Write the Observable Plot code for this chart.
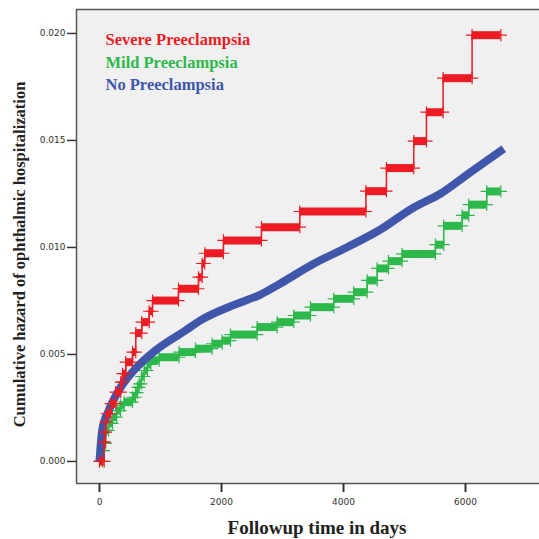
<!DOCTYPE html>
<html>
<head>
<meta charset="utf-8">
<script src="https://cdn.jsdelivr.net/npm/d3@7"></script>
<script src="https://cdn.jsdelivr.net/npm/@observablehq/plot@0.6"></script>
<style>
  body { margin: 0; background: #fff; }
</style>
</head>
<body>
<div id="chart"></div>
<script>
// ---- data ----
const seriesNames = ["Severe Preeclampsia", "Mild Preeclampsia", "No Preeclampsia"];
const seriesColors = ["#ed1c24", "#2db84b", "#3f56aa"];

const severeDays = [0,77,93,103,115,185,267,349,377,431,541,595,693,815,869,1295,1623,1683,1726,2032,2655,3283,4368,4704,5152,5360,5633,6108,6580];
const severeHazard = [0,0.0009,0.00137,0.00184,0.00223,0.0027,0.00324,0.00371,0.0041,0.00464,0.00511,0.006,0.00651,0.00702,0.00752,0.00807,0.00861,0.00925,0.00973,0.01033,0.01095,0.01168,0.01263,0.01371,0.01497,0.01632,0.01791,0.01992,0.01992];

const mildDays = [0,49,70,103,148,213,279,344,405,541,590,623,651,688,733,787,841,978,1306,1573,1847,2011,2147,2585,2913,3185,3458,3840,4168,4388,4552,4737,4961,5507,5643,5945,6053,6348,6580];
const mildHazard = [0,0.00051,0.00084,0.00145,0.00178,0.00207,0.00238,0.00262,0.00277,0.003,0.00322,0.00346,0.00363,0.00397,0.00425,0.00453,0.00472,0.00487,0.00511,0.00527,0.0055,0.00565,0.00593,0.00628,0.00651,0.00682,0.00721,0.0076,0.00791,0.00846,0.00902,0.00936,0.0097,0.01013,0.01101,0.0115,0.012,0.01262,0.01262];

const noneDays = [0,44,152,316,562,918,1410,1655,2229,2639,2967,3512,4060,4606,5151,5589,6081,6627];
const noneHazard = [0,0.00145,0.00238,0.00332,0.00425,0.00519,0.00612,0.00659,0.00734,0.0078,0.00832,0.00924,0.01001,0.01084,0.01187,0.01251,0.01352,0.01461];

const xTicks = [0, 2000, 4000, 6000];
const yTicks = [0, 0.005, 0.010, 0.015, 0.020];
const xDomain = [-377, 7213];
const yDomain = [-0.00103, 0.02112];

const xTitle = "Followup time in days";
const yTitle = "Cumulative hazard of ophthalmic hospitalization";

// ---- build tables ----
function points(days, haz) { return days.map((d, i) => ({t: d, h: haz[i]})); }
function bars(days, haz) {
  const out = [];
  for (let i = 0; i < days.length - 1; i++) out.push({t1: days[i], t2: days[i + 1], h: haz[i]});
  return out;
}
function crosses(days, haz) {
  const out = [];
  for (let i = 0; i < days.length - 1; i++) {
    out.push({t: days[i], h: haz[i]});
    out.push({t: days[i + 1], h: haz[i]});
  }
  return out;
}

const severe = points(severeDays, severeHazard);
const mild = points(mildDays, mildHazard);
const none = points(noneDays, noneHazard);

const serif = "'Liberation Serif', 'Times New Roman', serif";
const legendStyle = {frameAnchor: "top-left", dx: 29, text: d => d, textAnchor: "start", lineAnchor: "middle", fontFamily: serif, fontWeight: "bold", fontSize: 16.5};

const chart = Plot.plot({
  width: 539,
  height: 539,
  marginLeft: 76,
  marginRight: 0,
  marginTop: 9,
  marginBottom: 56,
  style: {background: "#fff", fontFamily: "'DejaVu Sans', sans-serif", color: "#333"},
  x: {domain: xDomain},
  y: {domain: yDomain},
  marks: [
    Plot.frame({fill: "#f0f0f0", stroke: null}),
    // Mild
    Plot.ruleY(bars(mildDays, mildHazard), {x1: "t1", x2: "t2", y: "h", stroke: seriesColors[1], strokeWidth: 8}),
    Plot.line(mild, {x: "t", y: "h", curve: "step-after", stroke: seriesColors[1], strokeWidth: 1.5}),
    Plot.dot(crosses(mildDays, mildHazard), {x: "t", y: "h", symbol: "plus", r: 4, stroke: seriesColors[1], strokeWidth: 1.2}),
    // None
    Plot.line(none, {x: "t", y: "h", curve: "monotone-x", stroke: seriesColors[2], strokeWidth: 8, strokeLinecap: "butt"}),
    // Severe
    Plot.ruleY(bars(severeDays, severeHazard), {x1: "t1", x2: "t2", y: "h", stroke: seriesColors[0], strokeWidth: 8}),
    Plot.line(severe, {x: "t", y: "h", curve: "step-after", stroke: seriesColors[0], strokeWidth: 1.5}),
    Plot.dot(crosses(severeDays, severeHazard), {x: "t", y: "h", symbol: "plus", r: 4, stroke: seriesColors[0], strokeWidth: 1.2}),
    // frame borders
    Plot.ruleX([xDomain[0]], {stroke: "#555", strokeWidth: 1.5}),
    Plot.ruleY([yDomain[0], yDomain[1]], {stroke: "#555", strokeWidth: 1.5}),
    // axes
    Plot.axisY(yTicks, {tickFormat: d3.format(".3f"), tickSize: 9, tickPadding: 2, fontSize: 9, strokeWidth: 1.5, label: null}),
    Plot.axisX(xTicks, {tickFormat: d3.format("d"), tickSize: 9, tickPadding: 6, fontSize: 9, strokeWidth: 2, label: null}),
    // titles
    Plot.text([xTitle], {frameAnchor: "bottom", dy: 44, dx: 9, text: d => d, textAnchor: "middle", lineAnchor: "middle", fontFamily: serif, fontWeight: "bold", fontSize: 19, fill: "#222"}),
    Plot.text([yTitle], {frameAnchor: "left", rotate: -90, dx: -57, dy: 8, text: d => d, textAnchor: "middle", lineAnchor: "middle", fontFamily: serif, fontWeight: "bold", fontSize: 16.5, fill: "#222"}),
    // legend
    Plot.text([seriesNames[0]], {...legendStyle, dy: 30.5, fill: seriesColors[0]}),
    Plot.text([seriesNames[1]], {...legendStyle, dy: 53.3, fill: seriesColors[1]}),
    Plot.text([seriesNames[2]], {...legendStyle, dy: 75.3, fill: seriesColors[2]})
  ]
});
document.getElementById("chart").appendChild(chart);
</script>
</body>
</html>
